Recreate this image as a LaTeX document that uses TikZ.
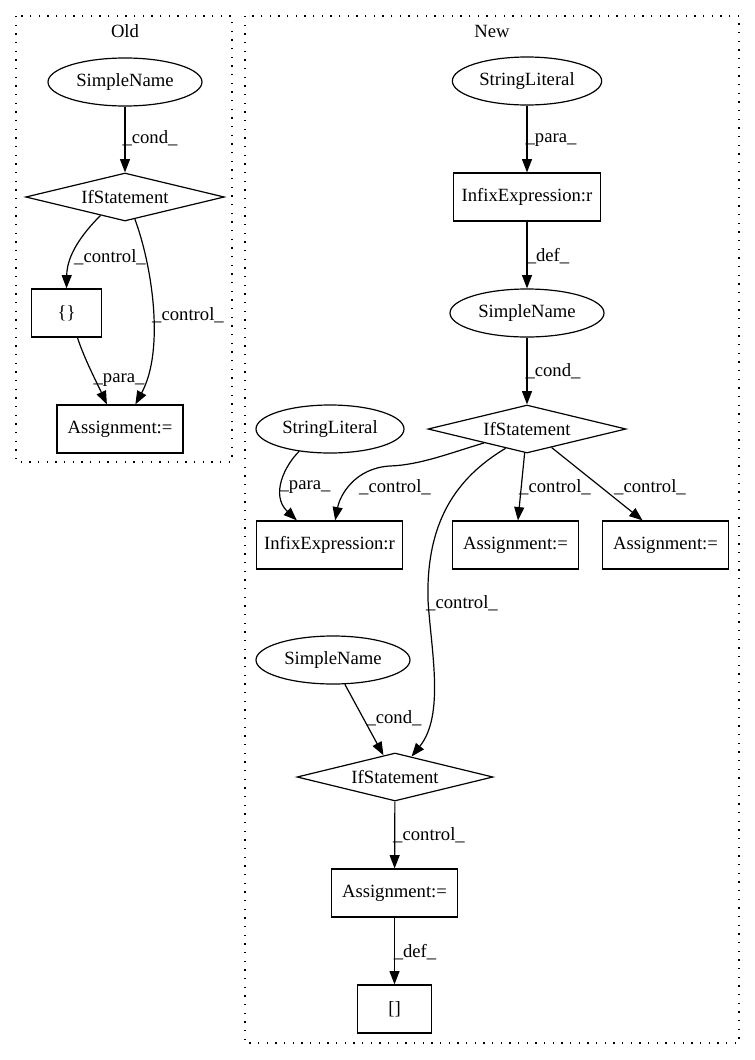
\documentclass[tikz,border=0pt]{standalone}
\usepackage{fontspec}
\setmainfont{Liberation Serif}
\usetikzlibrary{shapes.geometric,arrows.meta}
\tikzset{
  every node/.style={font=\fontsize{14pt}{16pt}\selectfont},
  ell/.style={draw, ellipse, line width=0.9pt, minimum height=36pt, inner sep=0pt},
  dia/.style={draw, diamond, aspect=4, line width=0.9pt, minimum width=149pt, minimum height=36pt, inner sep=0pt},
  box/.style={draw, rectangle, line width=0.9pt, minimum height=36pt, inner sep=0pt},
  conn/.style={draw, line width=0.9pt, -{Triangle[length=10pt,width=7.5pt]}},
  lbl/.style={inner sep=0pt},
  cluster/.style={draw, line width=0.9pt, dash pattern=on 1pt off 5.5pt}
}
\begin{document}
\begin{tikzpicture}[x=0.75pt,y=-0.75pt]
\useasboundingbox (0,0) rectangle (755,1060);
% clusters
\draw[cluster] (16,16) rectangle (232,462);
\node[lbl] (oldlabel) at (125,31) {Old};
\draw[cluster] (245,16) rectangle (739,1043);
\node[lbl] (newlabel) at (492,31) {New};

% Old nodes
\node[ell, minimum width=115.5pt] (sno) at (125,82) {SimpleName};
\node[dia] (ifo) at (125,197) {IfStatement};
\node[box, minimum width=53pt] (bro) at (66.5,313) {\{\}};
\node[box, minimum width=94.5pt] (asgo) at (120,429) {Assignment:=};

% New nodes
\node[ell, minimum width=112pt] (sl1) at (527,81) {StringLiteral};
\node[box, minimum width=110pt] (inf1) at (527,197) {InfixExpression:r};
\node[ell, minimum width=115.5pt] (sn1) at (527,313) {SimpleName};
\node[dia, minimum width=148.5pt] (if1) at (527,429) {IfStatement};
\node[ell, minimum width=111pt] (sl2) at (330,429) {StringLiteral};
\node[box, minimum width=110pt] (inf2) at (329.5,545) {InfixExpression:r};
\node[box, minimum width=94pt] (asga) at (515.5,545) {Assignment:=};
\node[box, minimum width=94pt] (asgb) at (665.5,545) {Assignment:=};
\node[ell, minimum width=115.5pt] (sn2) at (333,660) {SimpleName};
\node[dia, minimum width=147pt] (if2) at (395,777) {IfStatement};
\node[box, minimum width=94pt] (asg3) at (394.5,893) {Assignment:=};
\node[box, minimum width=55pt] (arr) at (394.5,1009) {[]};

% Old edges
\draw[conn] (sno) -- (ifo);
\node[lbl] (l1) at (150,138) {\_cond\_};
\draw[conn] (ifo.217) .. controls (82,234) and (67,255) .. (bro.north);
\node[lbl] (l2) at (110,257) {\_control\_};
\draw[conn] (ifo.-66) .. controls (152,265) and (165,350) .. (asgo.58);
\node[lbl] (l3) at (188,315) {\_control\_};
\draw[conn] (bro.-66) .. controls (84,358) and (97,383) .. (asgo.118);
\node[lbl] (l4) at (119,380) {\_para\_};

% New edges
\draw[conn] (sl1) -- (inf1);
\node[lbl] (l5) at (551,140) {\_para\_};
\draw[conn] (inf1) -- (sn1);
\node[lbl] (l6) at (548,256) {\_def\_};
\draw[conn] (sn1) -- (if1);
\node[lbl] (l7) at (553,371) {\_cond\_};
\draw[conn] (sl2.216) .. controls (285,465) and (270,495) .. (inf2.143.6);
\node[lbl] (l8) at (305,487) {\_para\_};
\draw[conn] (if1.198) .. controls (450,453) and (420,465) .. (390,466)
  .. controls (355,468) and (340,495) .. (inf2.77);
\node[lbl] (l9) at (395,487) {\_control\_};
\draw[conn] (if1) -- (asga);
\node[lbl] (l10) at (555,487) {\_control\_};
\draw[conn] (if1.-37.6) -- (asgb.133);
\node[lbl] (l11) at (650,487) {\_control\_};
\draw[conn] (if1.222) .. controls (456,478) and (426,522) .. (428,600)
  .. controls (431,650) and (445,715) .. (if2.51);
\node[lbl] (l12) at (462,603) {\_control\_};
\draw[conn] (sn2.-64) -- (if2.118);
\node[lbl] (l13) at (394,718) {\_cond\_};
\draw[conn] (if2) -- (asg3);
\node[lbl] (l14) at (429,835) {\_control\_};
\draw[conn] (asg3) -- (arr);
\node[lbl] (l15) at (415,952) {\_def\_};
\end{tikzpicture}
\end{document}
